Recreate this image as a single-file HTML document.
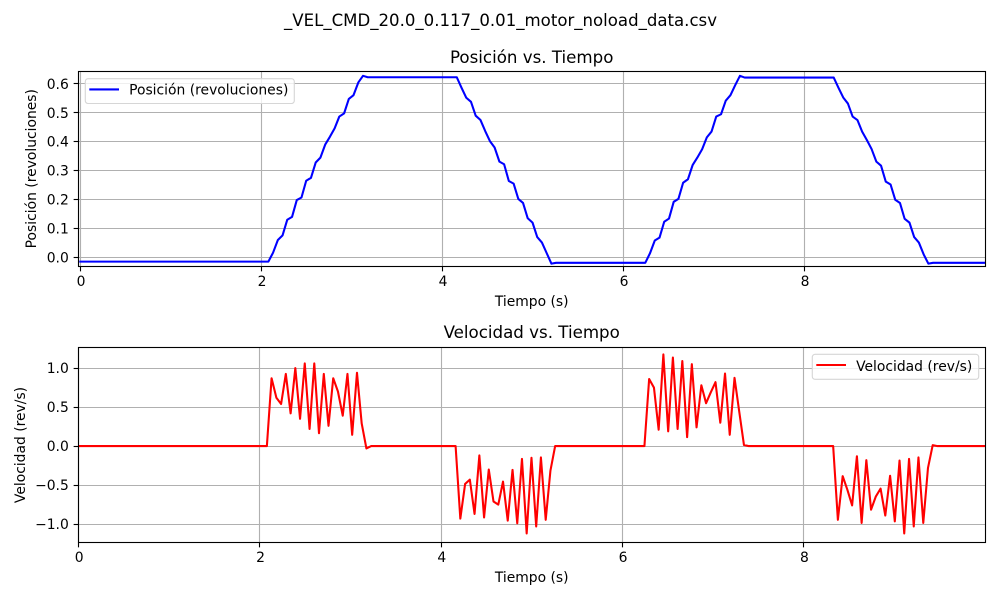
<!DOCTYPE html>
<html lang="es">
<head>
<meta charset="utf-8">
<title>_VEL_CMD_20.0_0.117_0.01_motor_noload_data.csv</title>
<style>
html,body{margin:0;padding:0;background:#fff;}
svg{display:block;}
text{font-family:"DejaVu Sans","Liberation Sans",sans-serif;fill:#000;}
</style>
</head>
<body>
<svg id="fig" xmlns="http://www.w3.org/2000/svg" width="1000" height="600" viewBox="0 0 1000 600">
  <text x="500.5" y="26" font-size="16.67" text-anchor="middle" textLength="433" lengthAdjust="spacingAndGlyphs">_VEL_CMD_20.0_0.117_0.01_motor_noload_data.csv</text>
  <g id="top-chart">
    <text x="531.7" y="63" font-size="16.67" text-anchor="middle">Posición vs. Tiempo</text>
    <text x="531.7" y="306" font-size="13.89" text-anchor="middle">Tiempo (s)</text>
    <text transform="translate(36 168.7) rotate(-90)" font-size="13.89" text-anchor="middle">Posición (revoluciones)</text>
  </g>
  <g id="bottom-chart">
    <text x="531.7" y="338" font-size="16.67" text-anchor="middle">Velocidad vs. Tiempo</text>
    <text x="531.7" y="582" font-size="13.89" text-anchor="middle">Tiempo (s)</text>
    <text transform="translate(25 445) rotate(-90)" font-size="13.89" text-anchor="middle">Velocidad (rev/s)</text>
  </g>
</svg>
<script>
const times = [0,
  2.078,2.130,2.183,2.235,2.287,2.340,2.392,2.444,2.496,2.549,2.601,2.653,2.706,2.758,2.810,2.862,2.915,2.967,3.019,3.072,3.124,3.176,3.229,
  4.160,4.212,4.265,4.317,4.369,4.422,4.474,4.526,4.578,4.631,4.683,4.735,4.788,4.840,4.892,4.944,4.997,5.049,5.101,5.154,5.206,5.258,
  6.243,6.295,6.348,6.400,6.452,6.505,6.557,6.609,6.661,6.714,6.766,6.818,6.871,6.923,6.975,7.027,7.080,7.132,7.184,7.237,7.289,7.341,7.394,
  8.325,8.377,8.430,8.482,8.534,8.587,8.639,8.691,8.743,8.796,8.848,8.900,8.953,9.005,9.057,9.109,9.162,9.214,9.266,9.319,9.371,9.423,9.476,
  10];
const positionValues = [-0.015,
  -0.015,0.016,0.060,0.076,0.130,0.140,0.198,0.207,0.265,0.275,0.328,0.345,0.390,0.417,0.446,0.487,0.498,0.548,0.561,0.605,0.628,0.623,0.623,
  0.623,0.587,0.552,0.538,0.490,0.475,0.437,0.402,0.380,0.331,0.322,0.264,0.255,0.202,0.188,0.135,0.120,0.070,0.051,0.014,-0.022,-0.019,
  -0.019,0.014,0.058,0.068,0.123,0.134,0.192,0.202,0.258,0.270,0.319,0.345,0.374,0.415,0.435,0.487,0.495,0.542,0.561,0.596,0.628,0.622,0.622,
  0.622,0.587,0.553,0.532,0.487,0.475,0.435,0.406,0.375,0.331,0.317,0.262,0.252,0.199,0.188,0.133,0.120,0.070,0.051,0.010,-0.022,-0.019,-0.019,
  -0.019];
const velocityValues = [0,
  0,0.87,0.62,0.54,0.925,0.42,1.00,0.35,1.06,0.22,1.06,0.165,0.925,0.26,0.87,0.70,0.39,0.925,0.145,0.94,0.29,-0.03,0,
  0,-0.93,-0.485,-0.43,-0.87,-0.12,-0.915,-0.30,-0.71,-0.75,-0.455,-0.955,-0.305,-0.99,-0.165,-1.12,-0.15,-1.03,-0.145,-0.945,-0.315,0,
  0,0.86,0.75,0.21,1.175,0.19,1.135,0.22,1.09,0.115,1.05,0.24,0.78,0.55,0.69,0.82,0.30,0.93,0.145,0.875,0.44,0.015,0,
  0,-0.945,-0.385,-0.56,-0.76,-0.13,-0.985,-0.18,-0.815,-0.645,-0.545,-0.89,-0.38,-0.965,-0.185,-1.12,-0.165,-1.03,-0.145,-0.985,-0.28,0.012,0,
  0];
const xTicks = [0,2,4,6,8];
const positionTicks = [0,0.1,0.2,0.3,0.4,0.5,0.6];
const velocityTicks = [-1,-0.5,0,0.5,1];

const NS = 'http://www.w3.org/2000/svg';
const plotLeft = 78.5, plotRight = 985.5;

function topX(t){ return 80.3 + 90.5 * t; }
function topY(v){ return 257.3 - 289 * v; }
function botX(t){ return 78.5 + 90.65 * t; }
function botY(v){ return 446.1 - 78 * v; }
function snap(p){ return Math.floor(p) + 0.5; }

function svgEl(parent, tag, attrs, content){
  const el = document.createElementNS(NS, tag);
  for (const k in attrs) el.setAttribute(k, attrs[k]);
  if (content !== undefined) el.textContent = content;
  parent.appendChild(el);
  return el;
}

function drawGridAndTicks(parent, prefix, xFn, yFn, axTop, axBot, yVals, yFmt){
  xTicks.forEach(function(t){
    const px = snap(xFn(t));
    const g = svgEl(parent, 'line', {x1:px, x2:px, y1:axTop, y2:axBot, stroke:'#b0b0b0', 'stroke-width':1.11});
    
    
    const m = svgEl(parent, 'line', {x1:px, x2:px, y1:axBot, y2:axBot + 4.86, stroke:'#000', 'stroke-width':1.11});
    
    
    const l = svgEl(parent, 'text', {x:xFn(t) + 0.7, y:axBot + 19.3, 'font-size':13.89, 'text-anchor':'middle'}, String(t));
    
    
  });
  yVals.forEach(function(v){
    const py = snap(yFn(v));
    const g = svgEl(parent, 'line', {x1:plotLeft, x2:plotRight, y1:py, y2:py, stroke:'#b0b0b0', 'stroke-width':1.11});
    
    
    const m = svgEl(parent, 'line', {x1:plotLeft - 4.86, x2:plotLeft, y1:py, y2:py, stroke:'#000', 'stroke-width':1.11});
    
    
    const l = svgEl(parent, 'text', {x:plotLeft - 9.7, y:yFn(v) + 5, 'font-size':13.89, 'text-anchor':'end'}, yFmt(v));
    
    
  });
}

function drawSeries(parent, name, xFn, yFn, values, color){
  const pts = times.map(function(t, i){ return xFn(t).toFixed(2) + ',' + yFn(values[i]).toFixed(2); }).join(' ');
  const s = svgEl(parent, 'polyline', {points:pts, fill:'none', stroke:color, 'stroke-width':2.08, 'stroke-linejoin':'round', 'stroke-linecap':'square', 'clip-path':'url(#' + parent.id + '-clip)'});
  
  
}

function drawFrame(parent, name, axTop, axBot){
  const f = svgEl(parent, 'rect', {x:plotLeft, y:axTop, width:plotRight - plotLeft, height:axBot - axTop, fill:'none', stroke:'#000', 'stroke-width':1.11});
  
  
}

function drawClip(parent, axTop, axBot){
  const d = svgEl(parent, 'clipPath', {id:parent.id + '-clip'});
  svgEl(d, 'rect', {x:plotLeft, y:axTop, width:plotRight - plotLeft, height:axBot - axTop});
}

function drawLegend(parent, prefix, bx, by, bw, bh, color, label, textDy){
  const b = svgEl(parent, 'rect', {x:bx, y:by, width:bw, height:bh, rx:2.8, ry:2.8, fill:'#fff', 'fill-opacity':0.8, stroke:'#d6d6d6', 'stroke-width':1.11});
  
  
  const h = svgEl(parent, 'line', {x1:bx + 4, x2:bx + 33.7, y1:by + 10.7, y2:by + 10.7, stroke:color, 'stroke-width':2.08});
  
  
  const t = svgEl(parent, 'text', {x:bx + 43.8, y:by + textDy, 'font-size':13.89}, label);
  
  
}

function fmtY(v){ return (v < 0 ? '\u2212' : '') + Math.abs(v).toFixed(1); }

const topG = document.getElementById('top-chart');
const botG = document.getElementById('bottom-chart');
const topAxTop = 71.5, topAxBot = 266.5, botAxTop = 347.5, botAxBot = 542.5;

drawClip(topG, topAxTop, topAxBot);
drawGridAndTicks(topG, 'position', topX, topY, topAxTop, topAxBot, positionTicks, fmtY);
drawSeries(topG, 'position-line', topX, topY, positionValues, '#0000ff');
drawFrame(topG, 'position-plot-frame', topAxTop, topAxBot);
drawLegend(topG, 'position', 85.3, 78.7, 209, 24.8, '#0000ff', 'Posición (revoluciones)', 15.7);

drawClip(botG, botAxTop, botAxBot);
drawGridAndTicks(botG, 'velocity', botX, botY, botAxTop, botAxBot, velocityTicks, fmtY);
drawSeries(botG, 'velocity-line', botX, botY, velocityValues, '#ff0000');
drawFrame(botG, 'velocity-plot-frame', botAxTop, botAxBot);
drawLegend(botG, 'velocity', 812.3, 354.3, 166.4, 25, '#ff0000', 'Velocidad (rev/s)', 16.7);
</script>
</body>
</html>
